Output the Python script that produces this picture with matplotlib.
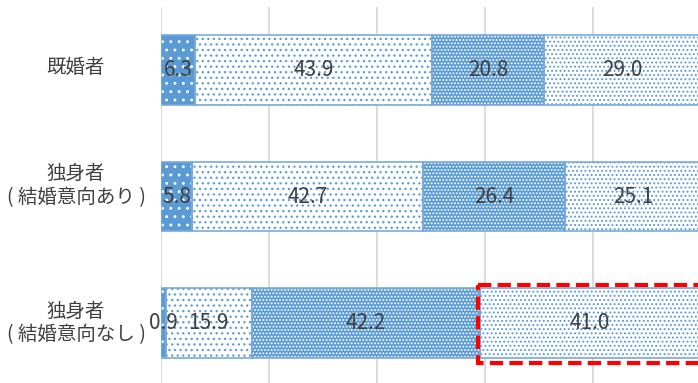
import matplotlib
matplotlib.use("Agg")
import matplotlib.pyplot as plt
import numpy as np
from matplotlib.patches import Rectangle

plt.rcParams['font.family'] = ['Noto Sans CJK JP', 'DejaVu Sans']
plt.rcParams['hatch.linewidth'] = 0.9

# データ（%）
categories = ["既婚者", "独身者\n( 結婚意向あり )", "独身者\n( 結婚意向なし )"]
seg1 = [6.3, 5.8, 0.9]
seg2 = [43.9, 42.7, 15.9]
seg3 = [20.8, 26.4, 42.2]
seg4 = [29.0, 25.1, 41.0]
series = [seg1, seg2, seg3, seg4]

# 模様: (面の色, 点の色, ハッチ)
styles = [
    ("#5B9BD5", "white", ".."),
    ("white", "#5B9BD5", "..."),
    ("#5B9BD5", "white", "....."),
    ("white", "#5B9BD5", "...."),
]
edge = "#7AAADB"
txt_color = "#404040"

fig = plt.figure(figsize=(6.98, 3.83), dpi=100)
ax = fig.add_axes([161/698, -3/383, 540/698, 379/383])

y = np.arange(len(categories))
h = 0.553
left = np.zeros(len(categories))
for vals, (fc, hc, hatch) in zip(series, styles):
    vals = np.array(vals)
    ax.barh(y, vals, left=left, height=h, color=fc, edgecolor=hc,
            hatch=hatch, linewidth=0, zorder=2)
    ax.barh(y, vals, left=left, height=h, fill=False, edgecolor=edge,
            linewidth=1.2, zorder=3)
    for yi, l, v in zip(y, left, vals):
        ax.text(l + v / 2, yi, f"{v:.1f}", ha="center", va="center",
                fontsize=15, color=txt_color, zorder=5)
    left = left + vals

# 赤い点線の枠（独身者・結婚意向なし の4番目）
start = seg1[2] + seg2[2] + seg3[2]
ax.add_patch(Rectangle((start - 0.35, 2 - 0.30), seg4[2] + 0.2, 0.62,
                       fill=False, edgecolor="#FF0000", linewidth=3,
                       linestyle=(0, (3.2, 1.5)), zorder=6, clip_on=False))

ax.set_xlim(0, 100)
ax.set_ylim(2.5, -0.5)
ax.set_xticks([0, 20, 40, 60, 80, 100])
ax.set_xticklabels([])
ax.tick_params(axis="both", length=0)
ax.grid(axis="x", color="#D9D9D9", linewidth=1.3)
ax.set_axisbelow(True)
for s in ax.spines.values():
    s.set_visible(False)

ax.set_yticks(y)
ax.set_yticklabels([])
label_shift = [-0.02, -0.087, 0.0]
for yi, lab, dy in zip(y, categories, label_shift):
    ax.text(-85 / 5.4, yi + dy, lab, ha="center", va="center", fontsize=14,
            color=txt_color, linespacing=1.15, multialignment="center")

fig.savefig("out.png", dpi=100)
